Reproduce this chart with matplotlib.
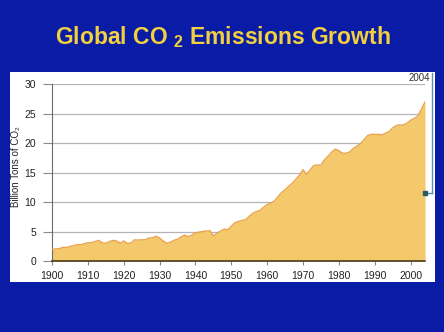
import matplotlib
matplotlib.use("Agg")
import matplotlib.pyplot as plt
from matplotlib.patches import Rectangle
from matplotlib.lines import Line2D
from matplotlib.transforms import blended_transform_factory

years = list(range(1900, 2005))
emissions = [
    2.0, 2.05, 2.1, 2.3, 2.3, 2.45, 2.6, 2.8, 2.75, 2.95,
    3.1, 3.1, 3.3, 3.5, 3.1, 3.0, 3.3, 3.5, 3.4, 3.0,
    3.4, 3.0, 3.05, 3.6, 3.55, 3.6, 3.6, 3.9, 3.95, 4.2,
    3.9, 3.4, 3.0, 3.2, 3.5, 3.7, 4.1, 4.4, 4.1, 4.4,
    4.8, 4.9, 5.0, 5.1, 5.15, 4.25, 4.7, 5.1, 5.4, 5.3,
    5.9, 6.5, 6.7, 6.9, 7.0, 7.6, 8.1, 8.4, 8.6, 9.1,
    9.6, 9.8, 10.2, 10.9, 11.6, 12.1, 12.7, 13.2, 13.9, 14.6,
    15.5, 14.7, 15.5, 16.2, 16.3, 16.3, 17.2, 17.8, 18.5, 19.0,
    18.7, 18.3, 18.3, 18.5, 19.1, 19.5, 19.9, 20.6, 21.3, 21.5,
    21.5, 21.5, 21.4, 21.7, 22.0, 22.6, 23.0, 23.1, 23.1, 23.4,
    23.9, 24.2, 24.6, 25.8, 27.0,
]
x_ticks = list(range(1900, 2001, 10))
y_ticks = [0, 5, 10, 15, 20, 25, 30]
title = "Global CO $_2$ Emissions Growth"
y_label = "Billion Tons of CO\u2082"
callout_label = "2004"
callout_value = 11.5

plt.rcParams['mathtext.fontset'] = 'custom'
plt.rcParams['mathtext.rm'] = 'Liberation Sans:bold'
plt.rcParams['mathtext.default'] = 'rm'

W, H = 444, 332
fig = plt.figure(figsize=(W / 100, H / 100), dpi=100)
fig.patch.set_facecolor('#0a1ca6')

# white panel
fig.patches.append(Rectangle((10 / W, 1 - 282 / H), 425 / W, 210 / H,
                             transform=fig.transFigure, facecolor='white',
                             edgecolor='none', zorder=-5))

fig.text(223 / W, 1 - 37 / H, title, color='#f2d040', fontsize=16.5,
         fontweight='bold', family='Liberation Sans', ha='center', va='center')

ax = fig.add_axes([52 / W, 1 - 261 / H, 373 / W, 176.7 / H])
ax.set_zorder(2)
ax.set_facecolor('none')
ax.fill_between(years, emissions, 0, color='#f3c96c', zorder=2, linewidth=0)
ax.plot(years, emissions, color='#e9a44c', linewidth=1.0, zorder=3)

ax.set_xlim(1900, 2004)
ax.set_ylim(0, 30)
ax.set_xticks(x_ticks)
ax.set_yticks(y_ticks)
ax.set_xticklabels([str(t) for t in x_ticks], family='Liberation Sans', fontsize=7.5)
ax.set_yticklabels([str(t) for t in y_ticks], family='Liberation Sans', fontsize=7.5)
ax.grid(axis='y', color='#b4b4b4', linewidth=0.9, zorder=1)
ax.set_axisbelow(True)
for s in ['top', 'right']:
    ax.spines[s].set_visible(False)
ax.spines['left'].set_color('#6a6a6a')
ax.spines['bottom'].set_color('#3a2a10')
ax.spines['bottom'].set_linewidth(1.1)
ax.spines['bottom'].set_zorder(4)
ax.tick_params(axis='y', length=6.5, color='#8a8a8a', pad=5, labelcolor='#222222')
ax.tick_params(axis='x', length=3, color='#8a8a8a', pad=4, labelcolor='#222222')

fig.text(16 / W, 1 - 167 / H, y_label, rotation=90, fontsize=7,
         family=['Liberation Sans', 'DejaVu Sans'], ha='center', va='center',
         color='#222222')

# callout
bt = blended_transform_factory(fig.transFigure, ax.transData)
xr = 432 / W
line_h = Line2D([425 / W, xr], [callout_value, callout_value], transform=bt,
                color='#5b90b4', linewidth=1.0, clip_on=False, zorder=5)
line_v = Line2D([xr, xr], [callout_value, 31.9], transform=bt,
                color='#5b90b4', linewidth=1.0, clip_on=False, zorder=5)
ax.add_line(line_h)
ax.add_line(line_v)
ax.plot([years[-1]], [callout_value], marker='s', markersize=2.5, color='#2b5a66',
        clip_on=False, zorder=6, linestyle='none')
fig.text(430 / W, 1 - 78 / H, callout_label, fontsize=7, family='Liberation Sans',
         ha='right', va='center', color='#333333', zorder=6)

fig.savefig('out.png', dpi=100, facecolor=fig.get_facecolor())
